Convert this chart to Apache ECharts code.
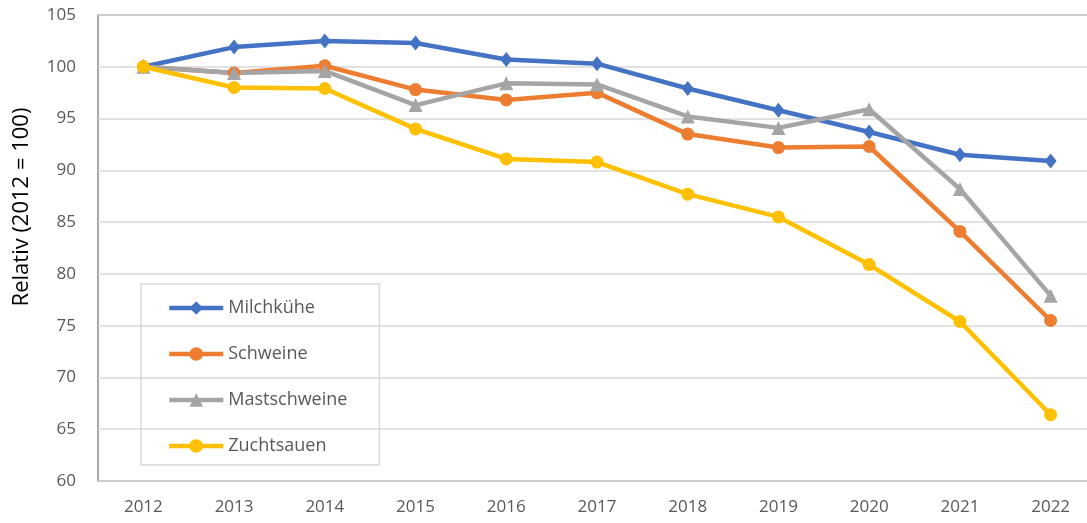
<!DOCTYPE html>
<html>
<head>
<meta charset="utf-8">
<script src="https://cdn.jsdelivr.net/npm/echarts@6/dist/echarts.min.js"></script>
<style>html,body{margin:0;padding:0;background:#fff;overflow:hidden;width:1087px;height:523px}#c{width:1096px;height:523px}</style>
</head>
<body>
<div id="c"></div>
<script>
var years = ['2012','2013','2014','2015','2016','2017','2018','2019','2020','2021','2022'];
var milchkuehe   = [100, 101.9, 102.5, 102.3, 100.7, 100.3, 97.9, 95.8, 93.7, 91.5, 90.9];
var schweine     = [100, 99.4, 100.1, 97.8, 96.8, 97.5, 93.5, 92.2, 92.3, 84.1, 75.5];
var mastschweine = [100, 99.4, 99.6, 96.3, 98.4, 98.3, 95.2, 94.1, 95.9, 88.2, 77.9];
var zuchtsauen   = [100, 98.0, 97.9, 94.0, 91.1, 90.8, 87.7, 85.5, 80.9, 75.4, 66.4];
var yTicks = {min: 60, max: 105, interval: 5};
var yTitle = 'Relativ (2012 = 100)';

var FONT = 'Open Sans';
function mk(name, data, color, symbol, size) {
  return {
    name: name, type: 'line', data: data,
    symbol: symbol, symbolSize: size,
    lineStyle: {color: color, width: 4.5},
    itemStyle: {color: color},
    emphasis: {disabled: true},
    animation: false
  };
}
var chart = echarts.init(document.getElementById('c'));
chart.setOption({
  backgroundColor: '#fff',
  animation: false,
  grid: {left: 98, right: 0, top: 15, bottom: 42, show: true, borderColor: '#8c8c8c', borderWidth: 1.5, backgroundColor: 'transparent'},
  xAxis: {
    type: 'category', data: years, boundaryGap: true,
    axisLine: {show: false}, axisTick: {show: false},
    axisLabel: {color: '#595959', fontFamily: FONT, fontSize: 17, margin: 18}
  },
  yAxis: {
    type: 'value', min: yTicks.min, max: yTicks.max, interval: yTicks.interval,
    axisLine: {show: false}, axisTick: {show: false},
    splitLine: {lineStyle: {color: '#d9d9d9', width: 1.5}},
    axisLabel: {color: '#595959', fontFamily: FONT, fontSize: 17, margin: 22}
  },
  legend: {
    orient: 'vertical', left: 141, top: 284,
    padding: [14, 32, 9, 26],
    borderColor: '#d9d9d9', borderWidth: 1.5,
    itemWidth: 54, itemHeight: 17, itemGap: 26,
    lineStyle: {width: 4.5},
    textStyle: {color: '#595959', fontFamily: FONT, fontSize: 18, lineHeight: 20},
    data: ['Milchkühe', 'Schweine', 'Mastschweine', 'Zuchtsauen']
  },
  graphic: [{
    type: 'text', x: 22, y: 207, rotation: Math.PI / 2,
    style: {text: yTitle, fill: '#000', font: '22px "Open Sans"', textAlign: 'center', textVerticalAlign: 'middle'}
  }],
  series: [
    mk('Milchkühe', milchkuehe, '#4472C4', 'diamond', [12, 15]),
    mk('Schweine', schweine, '#ED7D31', 'circle', 13),
    mk('Mastschweine', mastschweine, '#A5A5A5', 'triangle', 14),
    mk('Zuchtsauen', zuchtsauen, '#FFC000', 'circle', 13)
  ]
});
</script>
</body>
</html>
